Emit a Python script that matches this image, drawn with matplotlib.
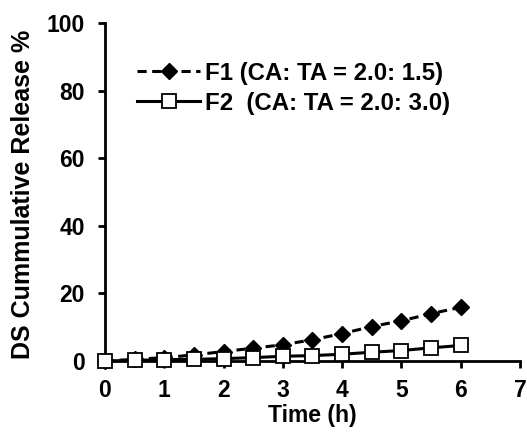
# DS cumulative release vs time for F1 and F2

import matplotlib
matplotlib.use("Agg")
import matplotlib.pyplot as plt

# data
time_h = [0, 0.5, 1, 1.5, 2, 2.5, 3, 3.5, 4, 4.5, 5, 5.5, 6]
f1_release = [0, 0.5, 1.0, 1.8, 2.8, 3.8, 4.8, 6.3, 8.1, 10.2, 11.9, 14.0, 15.9]
f2_release = [0, 0.2, 0.4, 0.5, 0.7, 1.0, 1.4, 1.6, 2.0, 2.6, 3.1, 3.9, 4.6]
x_ticks = [0, 1, 2, 3, 4, 5, 6, 7]
y_ticks = [0, 20, 40, 60, 80, 100]
f1_label = "F1 (CA: TA = 2.0: 1.5)"
f2_label = "F2  (CA: TA = 2.0: 3.0)"

plt.rcParams['font.family'] = ['Liberation Sans', 'DejaVu Sans']
plt.rcParams['font.weight'] = 'bold'

fig = plt.figure(figsize=(5.27, 4.37), dpi=100)
ax = fig.add_axes([0.1992, 0.1739, 0.7875, 0.7735])

ax.plot(time_h, f1_release, color='black', linestyle=(0, (3, 1.8)), linewidth=2.2,
        marker='D', markersize=8, markerfacecolor='black', label=f1_label, zorder=2)
ax.plot(time_h, f2_release, color='black', linestyle='-', linewidth=2.2,
        marker='s', markersize=10, markerfacecolor='white', markeredgewidth=1.3,
        label=f2_label, zorder=3)

ax.set_xlim(0, 7)
ax.set_ylim(0, 100)
ax.set_xticks(x_ticks)
ax.set_yticks(y_ticks)
ax.set_xlabel("Time (h)", fontsize=16.5, fontweight='bold')
ax.set_ylabel("DS Cummulative Release %", fontsize=18, fontweight='bold')
ax.xaxis.set_label_coords(0.5, -0.128)
ax.yaxis.set_label_coords(-0.169, 0.494)

for side in ['top', 'right']:
    ax.spines[side].set_visible(False)
for side in ['left', 'bottom']:
    ax.spines[side].set_linewidth(2)
ax.tick_params(direction='out', length=5, width=2, labelsize=16.5)
ax.tick_params(axis='x', pad=8)
ax.tick_params(axis='y', pad=9.5)
for line in ax.lines:
    line.set_clip_on(False)

ax.legend(loc='upper left', bbox_to_anchor=(0.078, 0.886), frameon=False,
          borderpad=0, borderaxespad=0, handlelength=2.6, handletextpad=0.2,
          labelspacing=0.3, prop={'weight': 'bold', 'size': 17.3})

fig.savefig("out.png", dpi=100)
